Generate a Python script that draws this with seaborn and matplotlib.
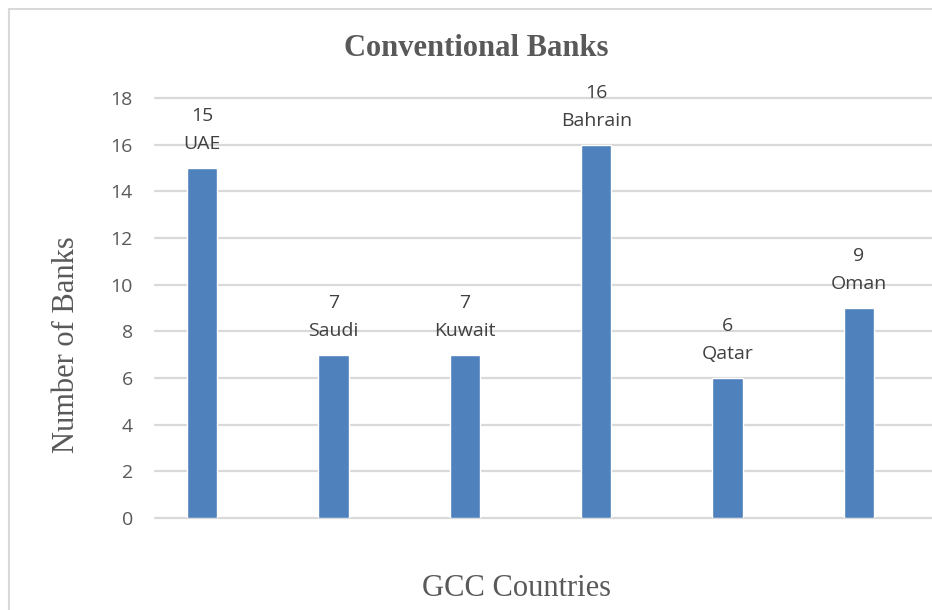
import matplotlib
matplotlib.use("Agg")
import matplotlib.pyplot as plt
import seaborn as sns
from matplotlib.patches import Rectangle

countries = ["UAE", "Saudi", "Kuwait", "Bahrain", "Qatar", "Oman"]
banks = [15, 7, 7, 16, 6, 9]
yticks = [0, 2, 4, 6, 8, 10, 12, 14, 16, 18]

sns.set_theme(style="white")
plt.rcParams["font.family"] = ["Open Sans", "DejaVu Sans"]

W, H = 932, 610
fig = plt.figure(figsize=(W / 100, H / 100), dpi=100)
ax = fig.add_axes([155 / W, 92 / H, (W - 155) / W, 420 / H])

sns.barplot(x=countries, y=banks, color="#4F81BD", saturation=1, width=0.23,
            ax=ax, zorder=3)

spacing = 131.4
ax.set_xlim((155 - 202) / spacing, (W - 202) / spacing)
ax.set_ylim(0, 18)
ax.set_yticks(yticks)
ax.set_yticklabels([str(t) for t in yticks], fontsize=14, color="#595959")
ax.set_xticks([])
ax.tick_params(axis="y", length=0, pad=16)
ax.set_xlabel("")
ax.set_ylabel("")
for s in ax.spines.values():
    s.set_visible(False)
ax.yaxis.grid(True, color="#D9D9D9", linewidth=1.6, zorder=0)
for gl in ax.get_ygridlines():
    gl.set_clip_on(False)

for i, (c, v) in enumerate(zip(countries, banks)):
    ax.annotate(c, (i, v), xytext=(0, 24 * 0.72), textcoords="offset points",
                ha="center", va="center", fontsize=14, color="#404040")
    ax.annotate(str(v), (i, v), xytext=(0, 52 * 0.72), textcoords="offset points",
                ha="center", va="center", fontsize=14, color="#404040")

fig.text(476 / W, 1 - 48 / H, "Conventional Banks", ha="center", va="center",
         fontsize=22, fontweight="bold", family="Liberation Serif", color="#595959")
fig.text(516 / W, 1 - 588 / H, "GCC Countries", ha="center", va="center",
         fontsize=22, family="Liberation Serif", color="#595959")
fig.text(66 / W, 1 - 345 / H, "Number of Banks", ha="center", va="center",
         rotation=90, fontsize=22, family="Liberation Serif", color="#595959")

fig.patches.append(Rectangle((9 / W, -0.1), 1.2, 1 - 9 / H + 0.1,
                             transform=fig.transFigure, fill=False,
                             edgecolor="#D9D9D9", linewidth=1.5))

fig.savefig("out.png", dpi=100, facecolor="white")
